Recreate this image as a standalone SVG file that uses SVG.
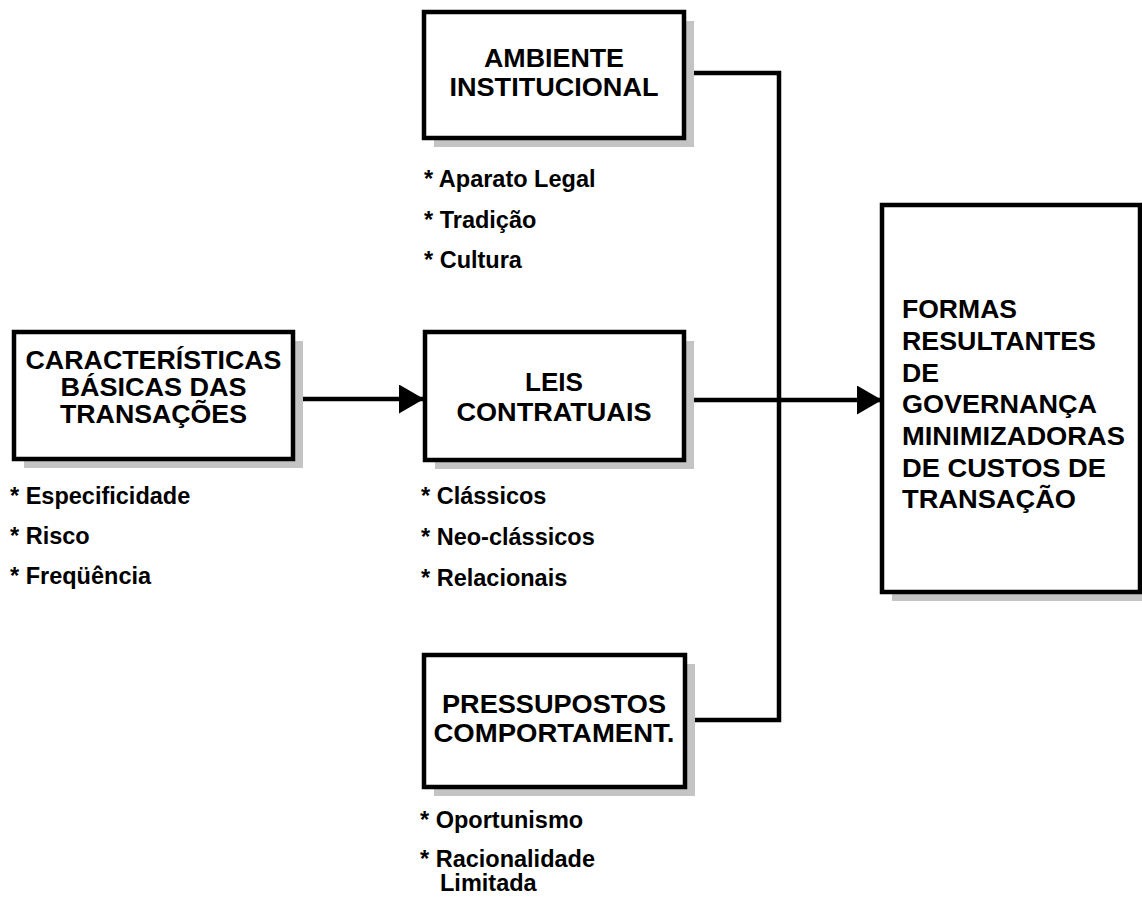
<svg xmlns="http://www.w3.org/2000/svg" width="1142" height="900" viewBox="0 0 1142 900">
<defs>
<style>
.box{fill:#ffffff;stroke:#000000;stroke-width:4.5}
.shadow{fill:#c4c4c4;stroke:none}
.title{font-family:"Liberation Sans",Arial,sans-serif;font-weight:bold;font-size:25px;fill:#000000;text-anchor:middle}
.ftitle{font-family:"Liberation Sans",Arial,sans-serif;font-weight:bold;font-size:25px;fill:#000000}
.bullet{font-family:"Liberation Sans",Arial,sans-serif;font-weight:bold;font-size:23.5px;fill:#000000}
.wire{fill:none;stroke:#000000;stroke-width:4.5}
</style>
<marker id="arrow" viewBox="0 0 25 29" refX="24" refY="14.5" markerWidth="25" markerHeight="29" markerUnits="userSpaceOnUse" orient="auto">
<path d="M0,0 L25,14.5 L0,29 Z" fill="#000000"/>
</marker>
</defs>
<rect width="1142" height="900" fill="#ffffff"/>

<g id="connectors">
<polyline class="wire" points="684,73 779,73 779,720 684,720"/>
<line class="wire" x1="293" y1="399" x2="423" y2="399" marker-end="url(#arrow)"/>
<line class="wire" x1="684" y1="400" x2="881" y2="400" marker-end="url(#arrow)"/>
</g>

<g id="node-caracteristicas">
<rect class="shadow" x="24" y="341" width="279" height="127"/>
<rect class="box" x="14" y="332" width="279" height="127"/>
<text class="title" x="153.5" y="369" textLength="256" lengthAdjust="spacingAndGlyphs">CARACTERÍSTICAS</text>
<text class="title" x="153.5" y="396" textLength="186" lengthAdjust="spacingAndGlyphs">BÁSICAS DAS</text>
<text class="title" x="153.5" y="423" textLength="187" lengthAdjust="spacingAndGlyphs">TRANSAÇÕES</text>
<text class="bullet" x="10" y="504">* Especificidade</text>
<text class="bullet" x="10" y="544">* Risco</text>
<text class="bullet" x="10" y="584">* Freqüência</text>
</g>

<g id="node-ambiente">
<rect class="shadow" x="434" y="21" width="260" height="126"/>
<rect class="box" x="424" y="12" width="260" height="126"/>
<text class="title" x="554" y="67" textLength="140" lengthAdjust="spacingAndGlyphs">AMBIENTE</text>
<text class="title" x="554" y="96" textLength="209" lengthAdjust="spacingAndGlyphs">INSTITUCIONAL</text>
<text class="bullet" x="424" y="187">* Aparato Legal</text>
<text class="bullet" x="424" y="228">* Tradição</text>
<text class="bullet" x="424" y="268">* Cultura</text>
</g>

<g id="node-leis">
<rect class="shadow" x="435" y="341" width="259" height="128"/>
<rect class="box" x="425" y="332" width="259" height="128"/>
<text class="title" x="554" y="391" textLength="58" lengthAdjust="spacingAndGlyphs">LEIS</text>
<text class="title" x="554" y="421" textLength="195" lengthAdjust="spacingAndGlyphs">CONTRATUAIS</text>
<text class="bullet" x="421" y="504">* Clássicos</text>
<text class="bullet" x="421" y="545">* Neo-clássicos</text>
<text class="bullet" x="421" y="586">* Relacionais</text>
</g>

<g id="node-pressupostos">
<rect class="shadow" x="434" y="664" width="261" height="132"/>
<rect class="box" x="424" y="655" width="261" height="132"/>
<text class="title" x="554" y="713" textLength="224" lengthAdjust="spacingAndGlyphs">PRESSUPOSTOS</text>
<text class="title" x="554" y="742" textLength="241" lengthAdjust="spacingAndGlyphs">COMPORTAMENT.</text>
<text class="bullet" x="420" y="828">* Oportunismo</text>
<text class="bullet" x="420" y="867">* Racionalidade</text>
<text class="bullet" x="440" y="891">Limitada</text>
</g>

<g id="node-formas">
<rect class="shadow" x="892" y="214" width="258" height="387"/>
<rect class="box" x="882" y="205" width="258" height="387"/>
<text class="ftitle" x="902" y="318" textLength="115" lengthAdjust="spacingAndGlyphs">FORMAS</text>
<text class="ftitle" x="902" y="350" textLength="194" lengthAdjust="spacingAndGlyphs">RESULTANTES</text>
<text class="ftitle" x="902" y="382" textLength="37" lengthAdjust="spacingAndGlyphs">DE</text>
<text class="ftitle" x="902" y="413" textLength="195" lengthAdjust="spacingAndGlyphs">GOVERNANÇA</text>
<text class="ftitle" x="902" y="445" textLength="223" lengthAdjust="spacingAndGlyphs">MINIMIZADORAS</text>
<text class="ftitle" x="902" y="477" textLength="204" lengthAdjust="spacingAndGlyphs">DE CUSTOS DE</text>
<text class="ftitle" x="902" y="508" textLength="174" lengthAdjust="spacingAndGlyphs">TRANSAÇÃO</text>
</g>
</svg>
